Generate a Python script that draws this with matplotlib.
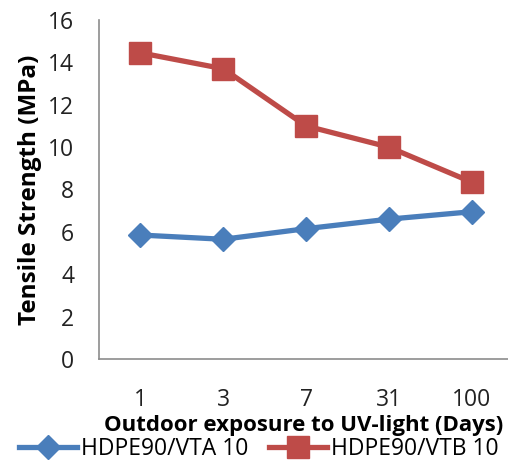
import numpy as np
import matplotlib.pyplot as plt
from matplotlib.lines import Line2D

days = ["1", "3", "7", "31", "100"]
vta = [5.85, 5.65, 6.15, 6.6, 6.95]
vtb = [14.45, 13.7, 11.0, 10.0, 8.35]

blue = "#4a7ebb"
red = "#be4b48"

plt.rcParams['font.family'] = ['Open Sans', 'DejaVu Sans']

fig = plt.figure(figsize=(5.08, 4.65), dpi=100)
ax = fig.add_axes([0.195, 0.228, 0.805, 0.729])

x = np.arange(len(days))
ax.plot(x, vta, color=blue, lw=3.8, marker="D", ms=12)
ax.plot(x, vtb, color=red, lw=3.8, marker="s", ms=16)

ax.set_xlim(-0.5, 4.44)
ax.set_ylim(0, 16)
ax.set_yticks(np.arange(0, 17, 2))
ax.set_xticks(x)
ax.set_xticklabels(days)
ax.tick_params(length=0, labelsize=16.5, colors="#222222")
ax.tick_params(axis="y", pad=18)
ax.tick_params(axis="x", pad=21)

for s in ["top", "right"]:
    ax.spines[s].set_visible(False)
for s in ["left", "bottom"]:
    ax.spines[s].set_color("#8c8c8c")
    ax.spines[s].set_linewidth(1.2)

ax.yaxis.set_label_coords(-0.17, 0.5)
ax.set_ylabel("Tensile Strength (MPa)", fontsize=17.5, fontweight="bold", va="center")
ax.set_xlabel("Outdoor exposure to UV-light (Days)", fontsize=16, fontweight="bold", labelpad=2)

handles = [Line2D([], [], color=blue, lw=3.8, marker="D", ms=12),
           Line2D([], [], color=red, lw=3.8, marker="s", ms=16)]
fig.legend(handles, ["HDPE90/VTA 10", "HDPE90/VTB 10"], loc="lower center",
           bbox_to_anchor=(0.51, -0.035), ncol=2, frameon=False, fontsize=16.5,
           handlelength=2.5, handletextpad=0.2, columnspacing=0.9)

fig.savefig("out.png", dpi=100)
